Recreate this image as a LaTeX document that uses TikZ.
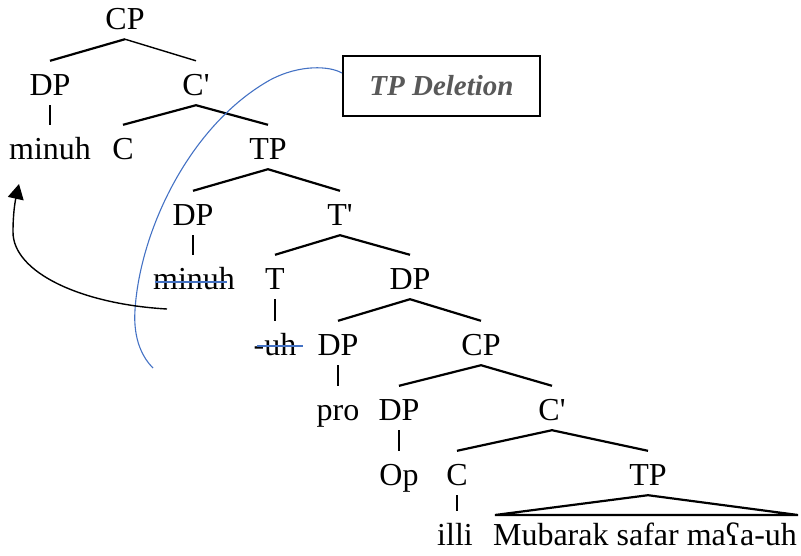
\documentclass[tikz,border=0pt]{standalone}
\usepackage{fontspec}
\setmainfont{Liberation Serif}
\usetikzlibrary{arrows.meta,calc}
\definecolor{wblue}{RGB}{68,114,196}
\definecolor{boxgray}{RGB}{89,89,89}
\begin{document}
\begin{tikzpicture}[x=1pt,y=-1pt,
  lab/.style={anchor=base,inner sep=0pt,text height=34pt,text depth=10pt,font=\fontsize{32}{38}\selectfont},
  br/.style={line width=2.2pt},
  brthin/.style={line width=1.4pt},
  strike/.style={draw=wblue,line width=1.3pt},
  arc/.style={draw=wblue,line width=1.1pt},
  move/.style={line width=1.4pt,-{Triangle[length=15pt,width=16pt]}},
  delbox/.style={draw,line width=2.2pt,minimum width=197pt,minimum height=60pt,inner sep=0pt,
     text=boxgray,font=\fontsize{29}{34}\selectfont\bfseries\itshape}]
\useasboundingbox (0,0) rectangle (801,555);
% nodes
\node[lab] (cp) at (125,29) {CP};
\node[lab] (dpa) at (50,95) {DP};
\node[lab] (cbara) at (196,95) {C\textquotesingle};
\node[lab] (minuha) at (50,159) {minuh};
\node[lab] (ca) at (123,159) {C};
\node[lab] (tpa) at (268,159) {TP};
\node[lab] (dpb) at (193,225) {DP};
\node[lab] (tbar) at (340,225) {T\textquotesingle};
\node[lab] (minuhb) at (194,289) {minuh};
\node[lab] (t) at (275,289) {T};
\node[lab] (dpc) at (410,289) {DP};
\node[lab] (uh) at (275,355) {-uh};
\node[lab] (dpd) at (338,355) {DP};
\node[lab] (cpb) at (481,355) {CP};
\node[lab] (pro) at (338,420) {pro};
\node[lab] (dpe) at (399,420) {DP};
\node[lab] (cbarb) at (552,420) {C\textquotesingle};
\node[lab] (op) at (399,485) {Op};
\node[lab] (cb) at (457,485) {C};
\node[lab] (tpb) at (648,485) {TP};
\node[lab] (illi) at (455,545) {illi};
\node[lab] (mub) at (645,545) {Mubarak safar maʕa-uh};
\node[delbox] (box) at (441.5,86) {TP Deletion};
% branches
\draw[br] (dpa.north) -- (cp.south);
\draw[brthin] (cp.south) -- (cbara.north);
\draw[br] (dpa.south) -- (dpa.south |- minuha.north);
\draw[br] (ca.north) -- (cbara.south) -- (tpa.north);
\draw[br] (dpb.north) -- (tpa.south) -- (tbar.north);
\draw[br] (dpb.south) -- (dpb.south |- minuhb.north);
\draw[br] (t.north) -- (tbar.south) -- (dpc.north);
\draw[br] (t.south) -- (t.south |- uh.north);
\draw[br] (dpd.north) -- (dpc.south) -- (cpb.north);
\draw[br] (dpd.south) -- (dpd.south |- pro.north);
\draw[br] (dpe.north) -- (cpb.south) -- (cbarb.north);
\draw[br] (dpe.south) -- (dpe.south |- op.north);
\draw[br] (cb.north) -- (cbarb.south) -- (tpb.north);
\draw[br] (cb.south) -- (cb.south |- illi.north);
\coordinate (tl) at (495,515);
\coordinate (tr) at (798,515);
\draw[br,line join=miter] (tl) -- (tpb.south) -- (tr) -- cycle;
% strike-through
\draw[strike] ([shift={(2,-7)}]minuhb.base west) -- ([shift={(-8,-7)}]minuhb.base east);
\draw[strike] ([shift={(4,-9)}]uh.base west) -- ([shift={(6,-9)}]uh.base east);
% deletion arc
\draw[arc] ([yshift=13pt]box.west) .. controls (330,66) and (300,64) .. (270,80)
  .. controls (190,125) and (140,230) .. (135,310)
  .. controls (133,340) and (143,358) .. (153,368);
% movement arrow
\coordinate (mvstart) at (167,309);
\coordinate (mvend) at (19,184);
\draw[move] (mvstart) .. controls (80,304) and (13,272) .. (13,232) .. controls (13,214) and (15,202) .. (mvend);
\end{tikzpicture}
\end{document}
